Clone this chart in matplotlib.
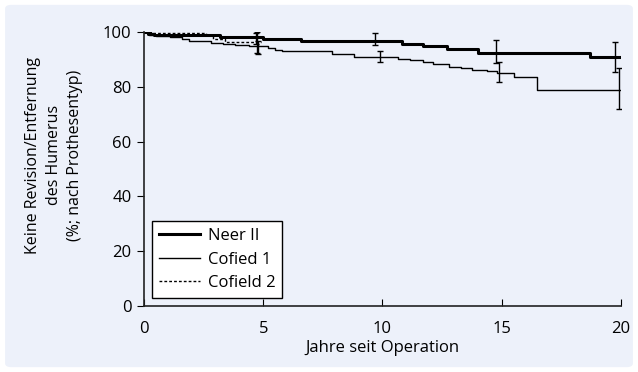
import matplotlib.pyplot as plt
from matplotlib.patches import FancyBboxPatch
import numpy as np

plt.rcParams['font.family'] = ['Open Sans', 'DejaVu Sans']

# Kaplan-Meier Stufen (Jahre, % ohne Revision)
neer_t = [0, 0.15, 0.4, 3.2, 5.0, 6.6, 10.8, 11.7, 12.7, 14.0, 18.7, 20]
neer_v = [100, 99.3, 98.9, 98.1, 97.4, 96.7, 95.6, 94.9, 93.7, 92.3, 90.8, 90.8]

cof1_t = [0, 0.2, 0.5, 1.1, 1.6, 1.9, 2.8, 3.3, 3.8, 4.4, 5.2, 5.5, 5.8, 7.9, 8.8,
          10.65, 11.15, 11.7, 12.1, 12.8, 13.3, 13.75, 14.4, 14.8, 15.5, 16.5, 20]
cof1_v = [100, 99.0, 98.6, 98.0, 97.4, 96.8, 96.0, 95.6, 95.1, 94.8, 94.0, 93.4, 92.9,
          91.9, 91.0, 90.3, 89.7, 88.9, 88.3, 87.4, 86.7, 86.1, 85.6, 85.0, 83.4, 78.8, 78.8]

cof2_t = [0, 0.3, 1.5, 2.6, 2.9, 3.4, 4.9]
cof2_v = [100, 99.8, 99.5, 99.0, 97.3, 96.4, 96.4]

# Konfidenzintervalle
neer_et = [4.7, 9.7, 14.75, 19.75]
neer_lo = [95.8, 95.2, 88.8, 85.5]
neer_hi = [99.7, 99.5, 97.1, 96.5]
neer_c = [98.1, 96.7, 92.3, 90.8]

cof1_et = [4.8, 9.9, 14.9, 19.9]
cof1_lo = [91.9, 88.9, 81.6, 71.8]
cof1_hi = [96.8, 92.9, 88.9, 86.7]
cof1_c = [94.8, 91.0, 85.0, 78.8]

cof2_et = [4.75]
cof2_lo = [92.5]
cof2_hi = [99.9]
cof2_c = [96.4]

bg = '#edf1fa'
fig = plt.figure(figsize=(6.38, 3.72), dpi=100)
fig.patch.set_facecolor('white')
fig.patches.append(FancyBboxPatch((0.008, 0.013), 0.984, 0.974, boxstyle='round,pad=0,rounding_size=0.01',
                                  transform=fig.transFigure, facecolor=bg, edgecolor='none', zorder=-10))
ax = fig.add_axes([0.2257, 0.1774, 0.7476, 0.7366])
ax.set_facecolor(bg)

ax.step(neer_t, neer_v, where='post', color='black', lw=2.2, label='Neer II')
ax.step(cof1_t, cof1_v, where='post', color='black', lw=1.0, label='Cofied 1')
ax.step(cof2_t, cof2_v, where='post', color='black', lw=1.0, ls=(0, (2, 1.5)), label='Cofield 2')

for t, lo, hi, c in [(neer_et, neer_lo, neer_hi, neer_c),
                     (cof1_et, cof1_lo, cof1_hi, cof1_c),
                     (cof2_et, cof2_lo, cof2_hi, cof2_c)]:
    c = np.array(c)
    ax.errorbar(t, c, yerr=[c - np.array(lo), np.array(hi) - c], fmt='none',
                ecolor='black', elinewidth=1.0, capsize=2, capthick=1.0)

ax.set_xlim(0, 20)
ax.set_ylim(0, 100)
ax.set_xticks([0, 5, 10, 15, 20])
ax.set_yticks([0, 20, 40, 60, 80, 100])
for s in ['top', 'right']:
    ax.spines[s].set_visible(False)
for s in ['left', 'bottom']:
    ax.spines[s].set_linewidth(1.2)
    ax.spines[s].set_color('#222222')
ax.tick_params(axis='x', direction='in', length=5, labelsize=12, pad=11)
ax.tick_params(axis='y', direction='out', length=5, labelsize=12, pad=4)
ax.set_xlabel('Jahre seit Operation', fontsize=12, labelpad=2)
ax.set_ylabel('Keine Revision/Entfernung\ndes Humerus\n(%; nach Prothesentyp)', fontsize=11.5,
              linespacing=1.4)
ax.yaxis.set_label_coords(-0.128, 0.551)

leg = ax.legend(loc='lower left', bbox_to_anchor=(0.017, 0.03), fontsize=12, frameon=True,
                fancybox=False, edgecolor='black', facecolor='white', framealpha=1,
                borderaxespad=0, handlelength=2.5, handletextpad=0.45, borderpad=0.4,
                labelspacing=0.45)
leg.get_frame().set_linewidth(1.0)

fig.savefig('out.png', dpi=100)
